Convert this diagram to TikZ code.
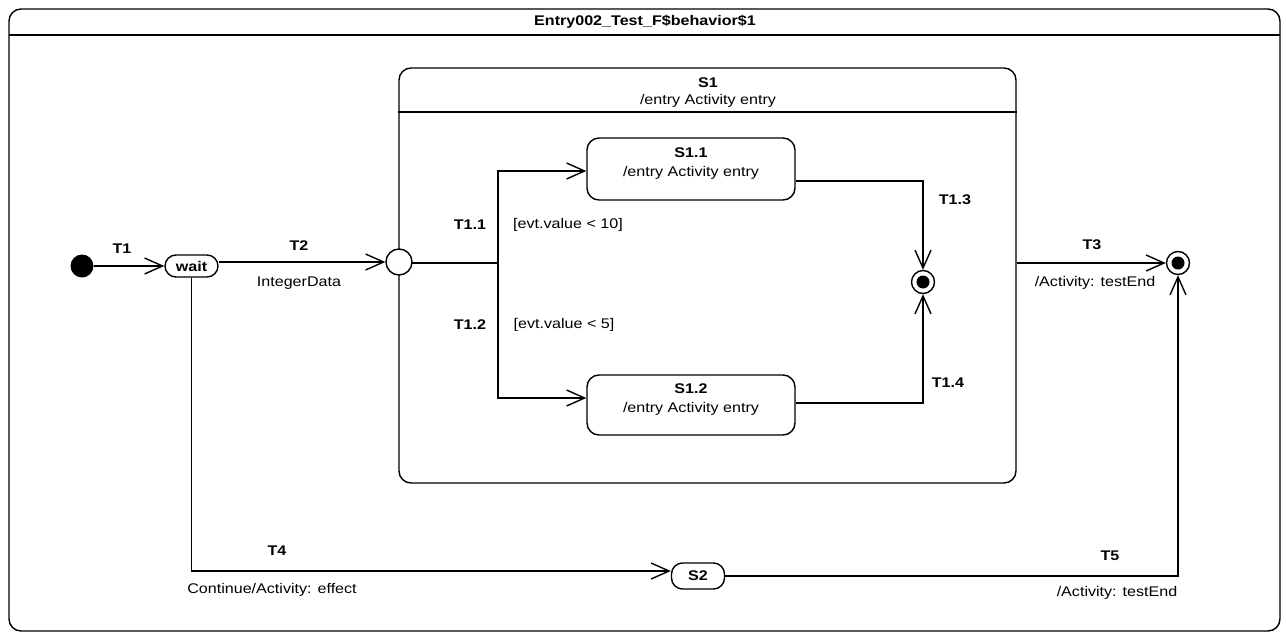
\documentclass[tikz,border=0pt]{standalone}
\usepackage{fontspec}
\setmainfont{Liberation Sans}[FakeStretch=1.15]
\usetikzlibrary{arrows.meta,calc}
\begin{document}
\begin{tikzpicture}[x=1pt,y=-1pt,
  every node/.style={font=\fontsize{14}{16}\selectfont},
  lbl/.style={inner sep=0pt},
  tlbl/.style={inner sep=0pt,font=\fontsize{14}{16}\selectfont\bfseries},
  ln/.style={line width=1.4pt},
  arr/.style={line width=1.4pt,-{Straight Barb[length=18pt,width=16pt]}},
  statebox/.style={draw,line width=1.4pt,rounded corners=12pt,fill=white,inner sep=0pt},
  pill/.style={draw,line width=1.4pt,rounded corners=11pt,fill=white,inner sep=0pt,font=\fontsize{14}{16}\selectfont\bfseries},
  finalst/.style={circle,draw,line width=1.4pt,fill=white,minimum size=23pt,inner sep=0pt},
]
\useasboundingbox (0,0) rectangle (1286,635);
% outer frame
\draw[line width=1.4pt,rounded corners=12pt] (9,9) rectangle (1280,631);
\draw[line width=1.4pt] (9,35) -- (1280,35);
\node[tlbl] (title) at (645,22) {Entry002\_Test\_F\$behavior\$1};

% composite state S1
\node[statebox,minimum width=617pt,minimum height=415pt] (s1) at (707.5,275.5) {};
\draw[ln] (s1.west |- 0,112) -- (s1.east |- 0,112);
\node[tlbl] (s1name) at (708,83) {S1};
\node[lbl] (s1entry) at (708,101) {/entry Activity entry};

% substates
\node[statebox,minimum width=208pt,minimum height=62pt] (s11) at (691,169) {};
\node[tlbl] (s11name) at (691,153) {S1.1};
\node[lbl] (s11entry) at (691,173) {/entry Activity entry};
\node[statebox,minimum width=208pt,minimum height=60pt] (s12) at (691,405) {};
\node[tlbl] (s12name) at (691,389) {S1.2};
\node[lbl] (s12entry) at (691,409) {/entry Activity entry};

% pseudo states
\node[circle,fill=black,minimum size=23pt,inner sep=0pt] (init) at (82,266) {};
\node[pill,minimum width=53pt,minimum height=22pt] (wait) at (191.5,266) {wait};
\coordinate (j) at (498,263);
\draw[line width=2.8pt] (399,263) -- (j);
\node[circle,draw,line width=1.4pt,fill=white,minimum size=26pt,inner sep=0pt] (ch) at (399,262) {};
\node[finalst] (f1) at (923,282) {};
\fill (f1) circle (6.5pt);
\node[finalst] (f2) at (1178,263) {};
\fill (f2) circle (6.5pt);
\node[pill,minimum width=53pt,minimum height=26pt] (s2) at (698,576) {S2};

% transitions
\draw[arr] (init) -- (wait);
\node[tlbl] (t1) at (122,249) {T1};
\draw[arr] (wait.east |- ch.west) -- (ch.west);
\node[tlbl] (t2) at (299,246) {T2};
\node[lbl] (t2e) at (299,283) {IntegerData};

\draw[arr] (j) |- ([yshift=-2pt]s11.west);
\node[tlbl] (t11) at (470,225) {T1.1};
\node[lbl] (t11g) at (568,225) {[evt.value < 10]};
\draw[arr] (j) |- ([yshift=7pt]s12.west);
\node[tlbl] (t12) at (470,325) {T1.2};
\node[lbl] (t12g) at (564,325) {[evt.value < 5]};

\draw[arr] ([yshift=-12pt]s11.east) -| (f1.north);
\node[tlbl] (t13) at (955,200) {T1.3};
\draw[arr] ([yshift=2pt]s12.east) -| (f1.south);
\node[tlbl] (t14) at (948,383) {T1.4};

\draw[arr] (s1.east |- f2.west) -- (f2.west);
\node[tlbl] (t3) at (1092,245) {T3};
\node[lbl] (t3e) at (1095,283) {/Activity: testEnd};

\draw[arr] (wait.south) |- ([yshift=5pt]s2.west);
\node[tlbl] (t4) at (277,551) {T4};
\node[lbl] (t4e) at (272,590) {Continue/Activity: effect};

\draw[arr] (s2.east) -| (f2.south);
\node[tlbl] (t5) at (1110,556) {T5};
\node[lbl] (t5e) at (1117,593) {/Activity: testEnd};
\end{tikzpicture}
\end{document}
